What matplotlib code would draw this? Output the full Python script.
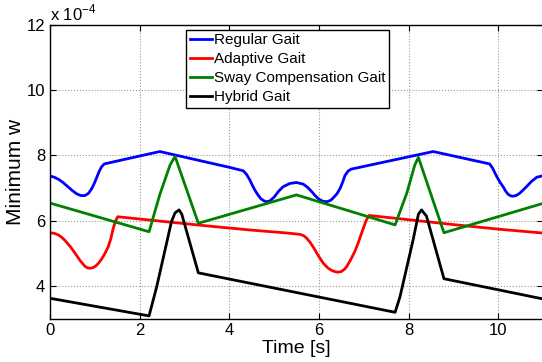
import matplotlib
matplotlib.use("Agg")
import matplotlib.pyplot as plt

plt.rcParams['font.family'] = ['Liberation Sans', 'DejaVu Sans']
plt.rcParams['mathtext.fontset'] = 'custom'
plt.rcParams['mathtext.rm'] = 'Liberation Sans'

# values, y in units of 1e-4
regular_t = [0, 0.1, 0.2, 0.3, 0.4, 0.5, 0.6, 0.69, 0.78, 0.86, 0.93, 0.99,
             1.05, 1.1, 1.15, 1.21, 2.45, 4.02, 4.31, 4.38, 4.45, 4.51, 4.57,
             4.64, 4.7, 4.77, 4.83, 4.9, 5.0, 5.1, 5.2, 5.35, 5.5, 5.65, 5.75,
             5.84, 5.92, 6.0, 6.08, 6.17, 6.26, 6.32, 6.4, 6.47, 6.53, 6.58,
             6.65, 6.72, 8.55, 9.81, 9.88, 9.95, 10.03, 10.11, 10.17, 10.22,
             10.28, 10.33, 10.4, 10.48, 10.55, 10.63, 10.74, 10.86, 11]
regular_w = [7.37, 7.33, 7.26, 7.16, 7.04, 6.92, 6.82, 6.77, 6.77, 6.84, 6.98,
             7.15, 7.35, 7.52, 7.65, 7.74, 8.12, 7.63, 7.53, 7.43, 7.27, 7.1,
             6.94, 6.79, 6.68, 6.61, 6.58, 6.6, 6.72, 6.9, 7.04, 7.14, 7.17,
             7.12, 7.02, 6.89, 6.76, 6.66, 6.6, 6.58, 6.62, 6.7, 6.82, 6.98,
             7.18, 7.38, 7.52, 7.58, 8.12, 7.74, 7.6, 7.4, 7.2, 7.04, 6.9,
             6.81, 6.76, 6.75, 6.77, 6.84, 6.93, 7.04, 7.2, 7.33, 7.38]

adaptive_t = [0, 0.1, 0.19, 0.26, 0.33, 0.45, 0.56, 0.67, 0.78, 0.84, 0.89,
              0.96, 1.02, 1.08, 1.15, 1.22, 1.3, 1.36, 1.41, 1.46, 1.51, 2.5,
              3.5, 4.5, 5.3, 5.58, 5.66, 5.73, 5.8, 5.87, 5.98, 6.1, 6.2, 6.28,
              6.35, 6.42, 6.5, 6.57, 6.62, 6.7, 6.8, 6.88, 6.95, 7.01, 7.06,
              7.12, 8, 9, 10, 11]
adaptive_w = [5.63, 5.61, 5.56, 5.49, 5.4, 5.21, 5.0, 4.78, 4.6, 4.55, 4.54,
              4.56, 4.61, 4.69, 4.82, 4.98, 5.2, 5.46, 5.76, 5.98, 6.12, 5.98,
              5.84, 5.71, 5.62, 5.58, 5.54, 5.46, 5.34, 5.2, 4.94, 4.69, 4.55,
              4.48, 4.44, 4.42, 4.44, 4.51, 4.59, 4.78, 5.05, 5.33, 5.61, 5.84,
              6.02, 6.16, 6.03, 5.88, 5.74, 5.62]

sway_t = [0, 2.21, 2.45, 2.68, 2.79, 3.31, 5.5, 7.7, 7.96, 8.14, 8.22, 8.79, 11]
sway_w = [6.54, 5.66, 6.8, 7.71, 7.97, 5.92, 6.79, 5.87, 6.84, 7.71, 7.94,
          5.63, 6.53]

hybrid_t = [0, 2.21, 2.38, 2.71, 2.79, 2.88, 2.94, 3.31, 7.7, 7.81, 8.1, 8.22,
            8.29, 8.4, 8.79, 11]
hybrid_w = [3.62, 3.08, 3.97, 5.97, 6.24, 6.33, 6.2, 4.4, 3.19, 3.67, 5.4, 6.2,
            6.33, 6.14, 4.22, 3.6]

labels = ['Regular Gait', 'Adaptive Gait', 'Sway Compensation Gait', 'Hybrid Gait']
colors = ['#0000ff', '#ff0000', '#008000', '#000000']

fig = plt.figure(figsize=(5.42, 3.62), dpi=100)
ax = fig.add_axes([50 / 542, 43.5 / 362, 493 / 542, 293.5 / 362])

series = [(regular_t, regular_w), (adaptive_t, adaptive_w),
          (sway_t, sway_w), (hybrid_t, hybrid_w)]
for (t, w), lab, c in zip(series, labels, colors):
    ax.plot(t, w, color=c, lw=2, label=lab)

ax.set_xlim(0, 11)
ax.set_ylim(3, 12)
ax.set_xticks([0, 2, 4, 6, 8, 10])
ax.set_yticks([4, 6, 8, 10, 12])
ax.tick_params(direction='in', top=True, right=True, labelsize=12, length=4)
ax.grid(True, linestyle=':', color='#999999', linewidth=0.8)
for s in ax.spines.values():
    s.set_linewidth(1.0)

ax.set_xlabel('Time [s]', fontsize=14, labelpad=1)
ax.set_ylabel('Minimum w', fontsize=15, labelpad=0)
ax.yaxis.set_label_coords(-0.05, 0.5)
ax.text(0.0, 1.005, 'x 10$^{-4}$', transform=ax.transAxes, fontsize=12,
        ha='left', va='bottom')

leg = ax.legend(loc='upper left', bbox_to_anchor=(135.7 / 493, 1 - 4.5 / 293.5),
                fontsize=11, handlelength=1.5, handletextpad=0.1,
                borderpad=0.25, labelspacing=0.33, borderaxespad=0,
                fancybox=False, framealpha=1, edgecolor='black')
leg.get_frame().set_linewidth(1.0)

fig.savefig('out.png', dpi=100)
